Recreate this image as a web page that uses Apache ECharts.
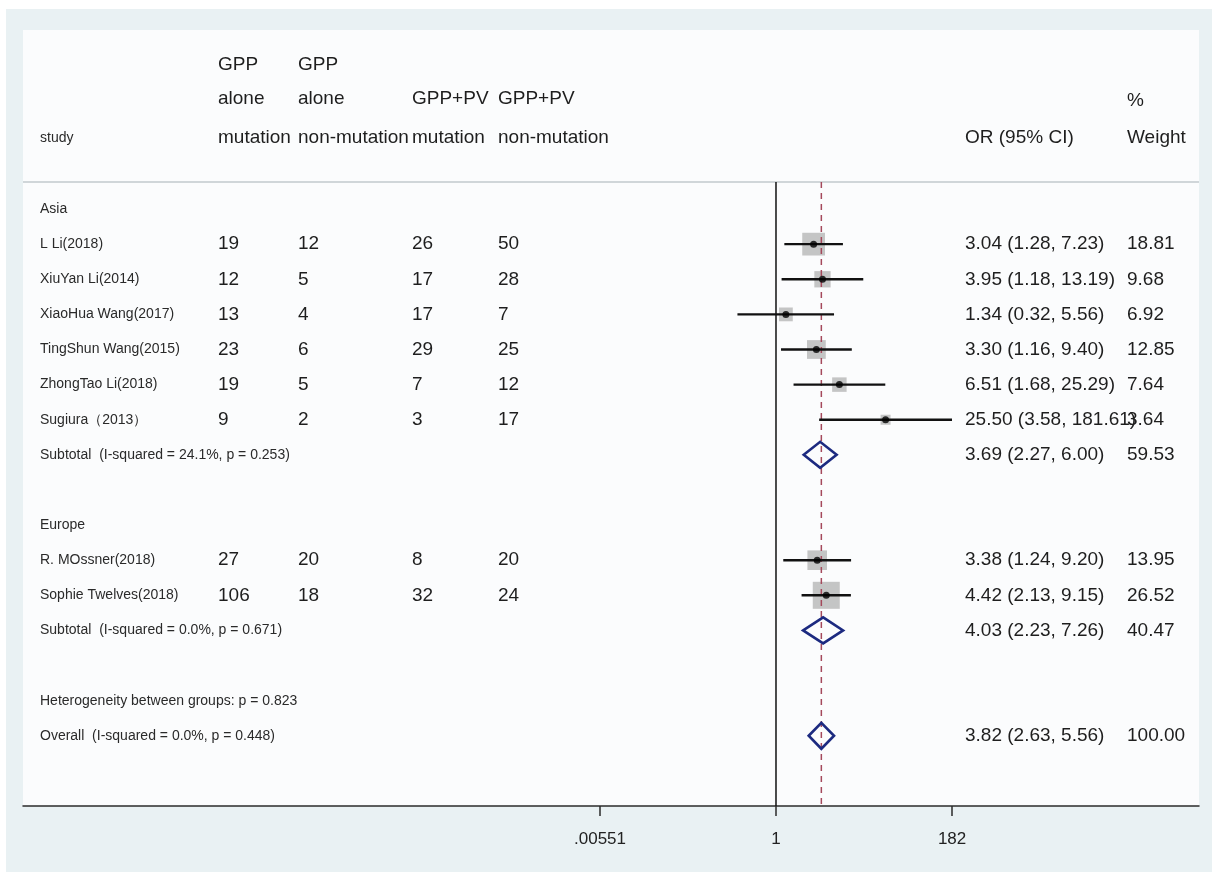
<!DOCTYPE html>
<html>
<head>
<meta charset="utf-8">
<script src="https://cdn.jsdelivr.net/npm/echarts@6/dist/echarts.min.js"></script>
<style>
html,body{margin:0;padding:0;background:#ffffff;}
#chart{width:1212px;height:872px;}
</style>
</head>
<body>
<div id="chart"></div>
<script>
// ---------------- data ----------------
const studies = ['L Li(2018)', 'XiuYan Li(2014)', 'XiaoHua Wang(2017)', 'TingShun Wang(2015)', 'ZhongTao Li(2018)', 'Sugiura（2013）', 'R. MOssner(2018)', 'Sophie Twelves(2018)'];
const studyRows = [1, 2, 3, 4, 5, 6, 10, 11];
const gppMut = [19, 12, 13, 23, 19, 9, 27, 106];
const gppNon = [12, 5, 4, 6, 5, 2, 20, 18];
const pvMut = [26, 17, 17, 29, 7, 3, 8, 32];
const pvNon = [50, 28, 7, 25, 12, 17, 20, 24];
const orVal = [3.04, 3.95, 1.34, 3.30, 6.51, 25.50, 3.38, 4.42];
const orLo = [1.28, 1.18, 0.32, 1.16, 1.68, 3.58, 1.24, 2.13];
const orHi = [7.23, 13.19, 5.56, 9.40, 25.29, 181.61, 9.20, 9.15];
const weights = [18.81, 9.68, 6.92, 12.85, 7.64, 3.64, 13.95, 26.52];

const sumLabels = ['Subtotal  (I-squared = 24.1%, p = 0.253)', 'Subtotal  (I-squared = 0.0%, p = 0.671)', 'Overall  (I-squared = 0.0%, p = 0.448)'];
const sumRows = [7, 12, 15];
const sumOr = [3.69, 4.03, 3.82];
const sumLo = [2.27, 2.23, 2.63];
const sumHi = [6.00, 7.26, 5.56];
const sumW = [59.53, 40.47, 100.00];

const groupLabels = ['Asia', 'Europe', 'Heterogeneity between groups: p = 0.823'];
const groupRows = [0, 9, 14];

const tickValues = [0.00551, 1, 182];
const tickLabels = ['.00551', '1', '182'];
const overallOR = 3.82;

const colHeaders = [
  ['GPP', 'alone', 'mutation'],
  ['GPP', 'alone', 'non-mutation'],
  ['', 'GPP+PV', 'mutation'],
  ['', 'GPP+PV', 'non-mutation']
];

// ---------------- layout ----------------
const FONT = "'Liberation Sans', Arial, sans-serif";
const PANEL = {x: 23, y: 30, w: 1176, h: 776};
const ROW_MIN = -0.77, ROW_MAX = 17;
const X_MIN = 2.16e-10, X_MAX = 2.69e5;
const colX = [218, 298, 412, 498];
const orX = 965, wX = 1127;
const nameX = 40;
const headY = [65, 99, 138];

const chart = echarts.init(document.getElementById('chart'), null, {renderer: 'canvas'});

const fmt = v => v.toFixed(2);

const option = {
  animation: false,
  backgroundColor: '#ffffff',
  grid: {left: PANEL.x, right: 1212 - (PANEL.x + PANEL.w), top: 182, bottom: 872 - (PANEL.y + PANEL.h), containLabel: false},
  xAxis: {
    type: 'log', logBase: 10, min: X_MIN, max: X_MAX, position: 'bottom',
    splitLine: {show: false},
    axisLine: {show: true, onZero: false, lineStyle: {color: '#2b2b2b', width: 1.5}},
    axisTick: {show: true, customValues: tickValues, length: 10, lineStyle: {color: '#2b2b2b', width: 1.5}},
    axisLabel: {
      show: true, customValues: tickValues, margin: 25,
      fontFamily: FONT, fontSize: 17, color: '#222',
      formatter: function (v) {
        for (let i = 0; i < tickValues.length; i++) {
          if (Math.abs(Math.log(v) - Math.log(tickValues[i])) < 1e-3) return tickLabels[i];
        }
        return '';
      }
    }
  },
  yAxis: {type: 'value', inverse: true, min: ROW_MIN, max: ROW_MAX, show: false, splitLine: {show: false}},
  series: [
    {
      type: 'scatter', name: 'weights', symbol: 'rect', z: 2,
      symbolSize: v => 5.24 * Math.sqrt(v[2]),
      itemStyle: {color: '#b7b7b7'},
      data: orVal.map((v, i) => [v, studyRows[i], weights[i]])
    },
    {
      type: 'line', name: 'null', z: 3, symbol: 'none',
      lineStyle: {color: '#111', width: 1.5},
      data: [[1, ROW_MIN], [1, ROW_MAX]]
    },
    {
      type: 'line', name: 'overall', z: 3, symbol: 'none',
      lineStyle: {color: '#a4495b', width: 1.5, type: [6, 5]},
      data: [[overallOR, ROW_MIN], [overallOR, ROW_MAX]]
    },
    {
      type: 'custom', name: 'ci', z: 4,
      encode: {x: [1, 2], y: 0},
      renderItem: function (params, api) {
        const y = api.value(0);
        const p1 = api.coord([api.value(1), y]);
        const p2 = api.coord([api.value(2), y]);
        return {type: 'line', shape: {x1: p1[0], y1: p1[1], x2: p2[0], y2: p2[1]}, style: {stroke: '#111', lineWidth: 2.4}};
      },
      data: orLo.map((v, i) => [studyRows[i], v, orHi[i]])
    },
    {
      type: 'scatter', name: 'points', symbol: 'circle', symbolSize: 7, z: 5,
      itemStyle: {color: '#000'},
      data: orVal.map((v, i) => [v, studyRows[i]])
    },
    {
      type: 'custom', name: 'diamonds', z: 5,
      encode: {x: [1, 2, 3], y: 0},
      renderItem: function (params, api) {
        const y = api.value(0);
        const a = api.coord([api.value(1), y]);
        const m = api.coord([api.value(2), y]);
        const b = api.coord([api.value(3), y]);
        const h = 13;
        return {
          type: 'polygon',
          shape: {points: [[a[0], a[1]], [m[0], m[1] - h], [b[0], b[1]], [m[0], m[1] + h]]},
          style: {fill: 'none', stroke: '#1c2a80', lineWidth: 2.6}
        };
      },
      data: sumLo.map((v, i) => [sumRows[i], v, sumOr[i], sumHi[i]])
    }
  ]
};
chart.setOption(option);

// ---------------- texts (rows placed via the y scale) ----------------
const rowY = r => chart.convertToPixel({yAxisIndex: 0}, r);
const small = (text, x, y) => ({type: 'text', x: x, y: y, style: {text: text, fontFamily: FONT, fontSize: 14, fill: '#2a2a2a', textVerticalAlign: 'middle', textAlign: 'left'}, z: 10});
const big = (text, x, y) => ({type: 'text', x: x, y: y, style: {text: String(text), fontFamily: FONT, fontSize: 19, fill: '#1e1e1e', textVerticalAlign: 'middle', textAlign: 'left'}, z: 10});

const g = [];
// backgrounds
g.push({type: 'rect', shape: {x: 6, y: 9, width: 1206, height: 863}, style: {fill: '#e9f1f3'}, z: -20, silent: true});
g.push({type: 'rect', shape: {x: PANEL.x, y: PANEL.y, width: PANEL.w, height: PANEL.h}, style: {fill: '#fbfcfd'}, z: -19, silent: true});
g.push({type: 'line', shape: {x1: PANEL.x, y1: 182, x2: PANEL.x + PANEL.w, y2: 182}, style: {stroke: '#d0d6d9', lineWidth: 2}, z: -18, silent: true});

// header
g.push(small('study', nameX, headY[2]));
colHeaders.forEach((lines, c) => lines.forEach((t, k) => { if (t) g.push(big(t, colX[c], headY[k])); }));
g.push(big('OR (95% CI)', orX, headY[2]));
g.push(big('%', wX, headY[1] + 2));
g.push(big('Weight', wX, headY[2]));

// group labels
groupLabels.forEach((t, i) => g.push(small(t, nameX, rowY(groupRows[i]))));

// study rows
studies.forEach((s, i) => {
  const y = rowY(studyRows[i]);
  g.push(small(s, nameX, y));
  g.push(big(gppMut[i], colX[0], y));
  g.push(big(gppNon[i], colX[1], y));
  g.push(big(pvMut[i], colX[2], y));
  g.push(big(pvNon[i], colX[3], y));
  g.push(big(fmt(orVal[i]) + ' (' + fmt(orLo[i]) + ', ' + fmt(orHi[i]) + ')', orX, y));
  g.push(big(fmt(weights[i]), wX, y));
});

// summary rows
sumLabels.forEach((t, i) => {
  const y = rowY(sumRows[i]);
  g.push(small(t, nameX, y));
  g.push(big(fmt(sumOr[i]) + ' (' + fmt(sumLo[i]) + ', ' + fmt(sumHi[i]) + ')', orX, y));
  g.push(big(fmt(sumW[i]), wX, y));
});

chart.setOption({graphic: {elements: g}});
</script>
</body>
</html>
